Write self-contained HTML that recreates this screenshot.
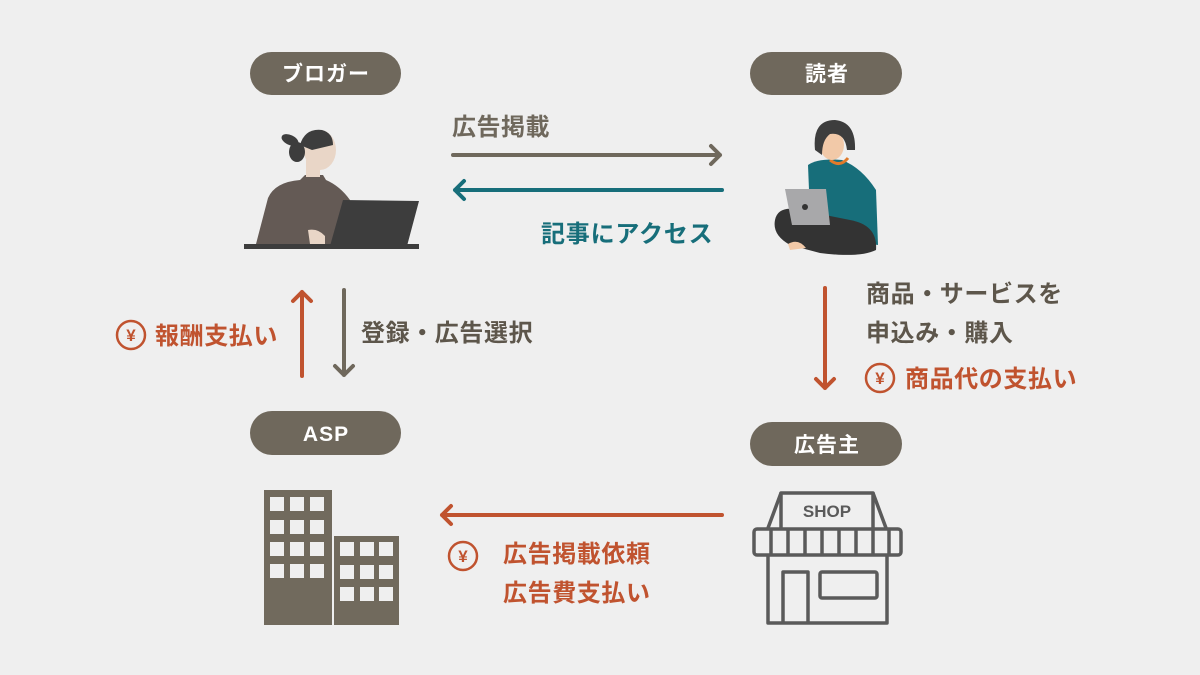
<!DOCTYPE html>
<html><head><meta charset="utf-8"><style>
html,body{margin:0;padding:0;background:#efefef}
svg{display:block}
text{font-family:"Liberation Sans","Noto Sans CJK JP",sans-serif;font-weight:bold}
</style></head><body>
<svg width="1200" height="675" viewBox="0 0 1200 675" xmlns="http://www.w3.org/2000/svg">
<rect width="1200" height="675" fill="#efefef"/>
<g fill="#6f685c">
<rect x="250" y="52" width="151" height="43" rx="21.5"/>
<rect x="750" y="52" width="152" height="43" rx="21.5"/>
<rect x="250" y="411" width="151" height="44" rx="22"/>
<rect x="750" y="422" width="152" height="44" rx="22"/>
</g>
<g fill="#fff" font-size="21" letter-spacing="1" text-anchor="middle">
<text x="326" y="81">ブロガー</text>
<text x="827" y="81">読者</text>
<text x="326" y="441">ASP</text>
<text x="827" y="452">広告主</text>
</g>
<g fill="none" stroke-width="4" stroke-linecap="round" stroke-linejoin="round">
<path d="M453 155H720M711 146l9 9-9 9" stroke="#6f685c"/>
<path d="M722 190H455M464 181l-9 9 9 9" stroke="#176e7a"/>
<path d="M302 376V292M293 301l9-9 9 9" stroke="#c0532f"/>
<path d="M344 290V375M335 366l9 9 9-9" stroke="#6f685c"/>
<path d="M825 288V388M816 379l9 9 9-9" stroke="#c0532f"/>
<path d="M722 515H442M451 506l-9 9 9 9" stroke="#c0532f"/>
</g>
<text x="452" y="135" font-size="24" letter-spacing="0.5" fill="#6f685c">広告掲載</text>
<text x="541" y="242" font-size="24" letter-spacing="0.8" fill="#176e7a">記事にアクセス</text>
<g font-size="24" letter-spacing="0.6" fill="#5d564b">
<text x="866" y="302">商品・サービスを</text>
<text x="866" y="341">申込み・購入</text>
<text x="361" y="341">登録・広告選択</text>
</g>
<g fill="none" stroke="#c0532f" stroke-width="2.5">
<circle cx="880" cy="378" r="14"/><circle cx="131" cy="335" r="14"/><circle cx="463" cy="556" r="14"/>
</g>
<g fill="#c0532f" font-size="17" text-anchor="middle">
<text x="880" y="384">¥</text><text x="131" y="341">¥</text><text x="463" y="562">¥</text>
</g>
<g fill="#c0532f" font-size="24" letter-spacing="0.6">
<text x="905" y="387">商品代の支払い</text>
<text x="155" y="344">報酬支払い</text>
<text x="503" y="562">広告掲載依頼</text>
<text x="503" y="601">広告費支払い</text>
</g>
<g>
<rect x="244" y="244" width="175" height="5" fill="#3d3d3d"/>
<path d="M256 244 L268 198 Q275 182 300 180 L305 175 L323 175 L326 180 Q340 186 350 200 L345 244 Z" fill="#645a55"/>
<path d="M308 230 Q318 228 325 236 L325 244 L310 244 Z" fill="#e9d6c7"/>
<ellipse cx="320" cy="150" rx="16" ry="20" fill="#e9d6c7"/>
<rect x="306" y="160" width="14" height="17" fill="#e9d6c7"/>
<path d="M300 145 Q305 128 322 130 Q333 133 333 145 L312 150 Z" fill="#3d3d3d"/>
<ellipse cx="297" cy="152" rx="8" ry="10" fill="#3d3d3d"/>
<ellipse cx="290" cy="140" rx="9" ry="5" fill="#3d3d3d" transform="rotate(25 290 140)"/>
<path d="M343 200 L419 201 L407 246 L330 246 Z" fill="#3d3d3d"/>
</g>
<g>
<path d="M808 165 Q818 158 842 160 Q862 168 876 190 L878 245 L842 240 L810 215 Z" fill="#176e7a"/>
<path d="M830 160 Q840 168 848 158" fill="none" stroke="#e07a2a" stroke-width="3"/>
<ellipse cx="832" cy="145" rx="12" ry="15" fill="#f2c9a8"/>
<path d="M815 150 Q812 120 835 120 Q856 122 855 150 L847 150 Q845 132 830 134 Q822 140 822 155 Z" fill="#3d3d3d"/>
<path d="M775 220 Q778 205 800 210 L850 220 Q878 225 876 250 Q860 258 820 253 L790 245 Q772 235 775 220 Z" fill="#333"/>
<path d="M785 189 L826 189 L830 225 L792 225 Z" fill="#a8a8aa"/>
<circle cx="805" cy="207" r="3" fill="#333"/>
<path d="M788 244 Q798 238 806 248 L790 250 Z" fill="#f2c9a8"/>
</g>
<g fill="#716a5d">
<rect x="264" y="490" width="68" height="135"/>
<rect x="334" y="536" width="65" height="89"/>
</g>
<g fill="#efefef">
<rect x="270" y="497" width="14" height="14"/><rect x="290" y="497" width="14" height="14"/><rect x="310" y="497" width="14" height="14"/>
<rect x="270" y="520" width="14" height="14"/><rect x="290" y="520" width="14" height="14"/><rect x="310" y="520" width="14" height="14"/>
<rect x="270" y="542" width="14" height="14"/><rect x="290" y="542" width="14" height="14"/><rect x="310" y="542" width="14" height="14"/>
<rect x="270" y="564" width="14" height="14"/><rect x="290" y="564" width="14" height="14"/><rect x="310" y="564" width="14" height="14"/>
<rect x="340" y="542" width="14" height="14"/><rect x="360" y="542" width="14" height="14"/><rect x="379" y="542" width="14" height="14"/>
<rect x="340" y="565" width="14" height="14"/><rect x="360" y="565" width="14" height="14"/><rect x="379" y="565" width="14" height="14"/>
<rect x="340" y="587" width="14" height="14"/><rect x="360" y="587" width="14" height="14"/><rect x="379" y="587" width="14" height="14"/>
</g>
<g fill="none" stroke="#5a5a5a" stroke-width="3.5" stroke-linejoin="round">
<path d="M781 528 V493 H873 V528"/>
<path d="M781 493 L768 528 M873 493 L886 528"/>
<rect x="754" y="529" width="147" height="26" rx="3"/>
<path d="M771 529v26M788 529v26M805 529v26M822 529v26M839 529v26M856 529v26M873 529v26M889 529v26"/>
<path d="M768 555 V623 H887 V555"/>
<path d="M783 623 V572 H808 V623"/>
<rect x="820" y="572" width="57" height="26" rx="2"/>
</g>
<text x="827" y="517" font-size="17" fill="#5a5a5a" text-anchor="middle" font-weight="normal">SHOP</text>
</svg>
</body></html>
